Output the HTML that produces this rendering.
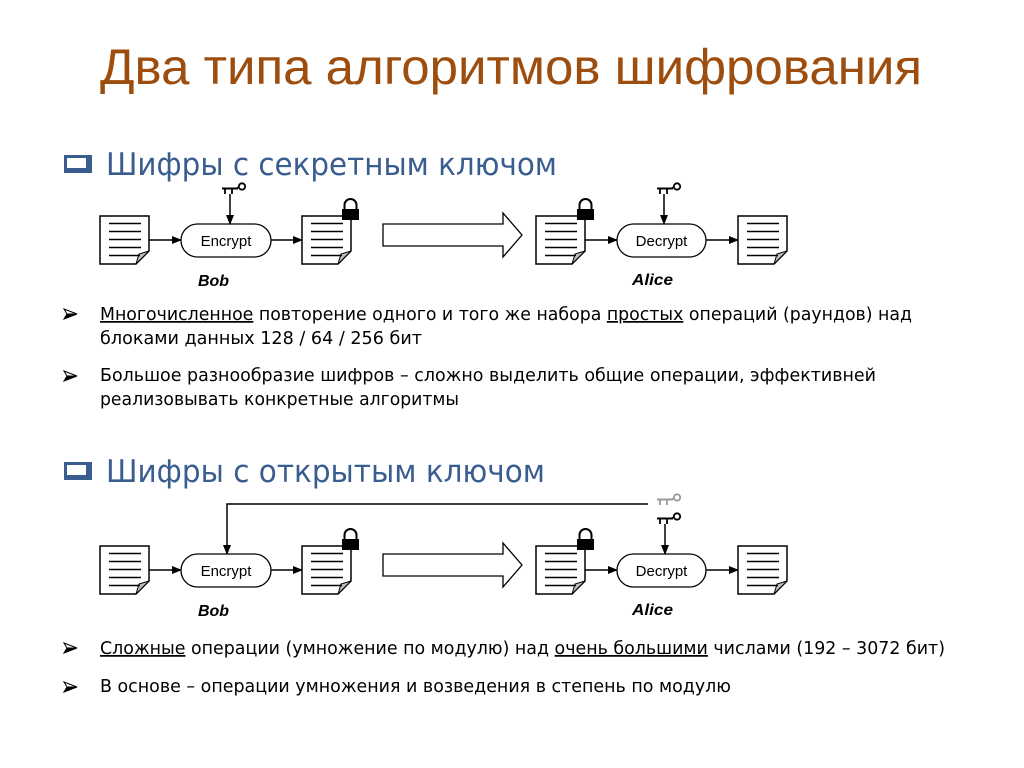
<!DOCTYPE html>
<html><head><meta charset="utf-8"><style>
html,body{margin:0;padding:0;background:#fff;}
svg{display:block;}
.body{font-family:"DejaVu Sans","Liberation Sans",sans-serif;font-size:17.5px;fill:#000;}
.hd{font-family:"DejaVu Sans","Liberation Sans",sans-serif;font-size:31px;fill:#3A5D8F;}
.lbl{font-family:"Liberation Sans",Arial,sans-serif;font-size:15px;fill:#000;}
.who{font-family:"Liberation Sans",Arial,sans-serif;font-size:15.5px;font-weight:bold;font-style:italic;fill:#000;}
.u{text-decoration:underline;}
</style></head><body>
<svg width="1024" height="768" viewBox="0 0 1024 768" xmlns="http://www.w3.org/2000/svg">
<defs>
  <marker id="ah" markerWidth="10" markerHeight="10" refX="9" refY="5" orient="auto" markerUnits="userSpaceOnUse">
    <path d="M0,1 L10,5 L0,9 Z" fill="#000"/>
  </marker>
  <g id="doc">
    <path d="M0,0 H49 V35 L36,48 H0 Z" fill="#fff" stroke="#000" stroke-width="1.5"/>
    <path d="M36,48 L39,38 L49,35 Z" fill="#bdbdbd" stroke="#000" stroke-width="1"/>
    <g stroke="#000" stroke-width="1.5">
      <line x1="9" y1="7.5" x2="41" y2="7.5"/>
      <line x1="9" y1="15.5" x2="41" y2="15.5"/>
      <line x1="9" y1="23.5" x2="41" y2="23.5"/>
      <line x1="9" y1="31.5" x2="41" y2="31.5"/>
      <line x1="9" y1="39.5" x2="40" y2="39.5"/>
    </g>
  </g>
  <g id="lock">
    <path d="M2.5,10 V6 A6,6 0 0 1 14.5,6 V10" fill="none" stroke="#000" stroke-width="2"/>
    <rect x="0" y="10" width="17" height="11" fill="#000"/>
  </g>
  <g id="key">
    <line x1="0" y1="4.5" x2="16" y2="4.5" stroke-width="2"/>
    <line x1="3" y1="4.5" x2="3" y2="10" stroke-width="1.8"/>
    <line x1="10" y1="4.5" x2="10" y2="10" stroke-width="1.8"/>
    <line x1="15" y1="4" x2="17" y2="3" stroke-width="1.5"/>
    <circle cx="20" cy="2.5" r="3.2" fill="none" stroke-width="1.8"/>
  </g>
  <g id="bul">
    <path d="M0,-5 L13,0 L3,0 Z" fill="#fff" stroke="#000" stroke-width="1"/>
    <path d="M3,0 L13,0 L0,5 Z" fill="#000" stroke="#000" stroke-width="1"/>
  </g>
</defs>

<!-- Title -->
<text x="100" y="84" textLength="822" lengthAdjust="spacingAndGlyphs" style="font-family:'Liberation Sans',Arial,sans-serif;font-size:50px;fill:#9D4E0E;">Два типа алгоритмов шифрования</text>

<!-- Heading 1 -->
<rect x="64" y="155" width="28" height="18" fill="#3A5D8F"/>
<rect x="67" y="158" width="19" height="10" fill="#fff"/>
<text class="hd" x="106" y="175" textLength="451" lengthAdjust="spacingAndGlyphs">Шифры с секретным ключом</text>

<!-- Diagram 1 -->
<use href="#doc" x="100" y="216"/>
<line x1="149" y1="240" x2="181" y2="240" stroke="#000" stroke-width="1.5" marker-end="url(#ah)"/>
<rect x="181" y="224" width="90" height="33" rx="16.5" fill="#fff" stroke="#000" stroke-width="1.3"/>
<text class="lbl" x="226" y="246" text-anchor="middle">Encrypt</text>
<g stroke="#000" fill="none"><use href="#key" x="222" y="184"/></g>
<line x1="230" y1="194" x2="230" y2="224" stroke="#000" stroke-width="1.5" marker-end="url(#ah)"/>
<line x1="271" y1="240" x2="302" y2="240" stroke="#000" stroke-width="1.5" marker-end="url(#ah)"/>
<use href="#doc" x="302" y="216"/>
<use href="#lock" x="342" y="199"/>
<polygon points="383,224 503,224 503,213 522,235 503,257 503,246 383,246" fill="#fff" stroke="#000" stroke-width="1.3"/>
<use href="#doc" x="536" y="216"/>
<use href="#lock" x="577" y="199"/>
<line x1="585" y1="240" x2="617" y2="240" stroke="#000" stroke-width="1.5" marker-end="url(#ah)"/>
<rect x="617" y="224" width="89" height="33" rx="16.5" fill="#fff" stroke="#000" stroke-width="1.3"/>
<text class="lbl" x="661.5" y="246" text-anchor="middle">Decrypt</text>
<g stroke="#000" fill="none"><use href="#key" x="657" y="184"/></g>
<line x1="664" y1="194" x2="664" y2="224" stroke="#000" stroke-width="1.5" marker-end="url(#ah)"/>
<line x1="706" y1="240" x2="738" y2="240" stroke="#000" stroke-width="1.5" marker-end="url(#ah)"/>
<use href="#doc" x="738" y="216"/>
<text class="who" x="198" y="286" textLength="31" lengthAdjust="spacingAndGlyphs">Bob</text>
<text class="who" x="632" y="285" textLength="41" lengthAdjust="spacingAndGlyphs">Alice</text>

<!-- Bullets section 1 -->
<use href="#bul" x="64" y="314"/>
<text class="body" x="100" y="320" textLength="812" lengthAdjust="spacingAndGlyphs"><tspan class="u">Многочисленное</tspan> повторение одного и того же набора <tspan class="u">простых</tspan> операций (раундов) над</text>
<text class="body" x="100" y="344" textLength="322" lengthAdjust="spacingAndGlyphs">блоками данных 128 / 64 / 256 бит</text>
<use href="#bul" x="64" y="376"/>
<text class="body" x="100" y="381" textLength="776" lengthAdjust="spacingAndGlyphs">Большое разнообразие шифров – сложно выделить общие операции, эффективней</text>
<text class="body" x="100" y="405" textLength="359" lengthAdjust="spacingAndGlyphs">реализовывать конкретные алгоритмы</text>

<!-- Heading 2 -->
<rect x="64" y="462" width="28" height="18" fill="#3A5D8F"/>
<rect x="67" y="465" width="19" height="10" fill="#fff"/>
<text class="hd" x="106" y="482" textLength="439" lengthAdjust="spacingAndGlyphs">Шифры с открытым ключом</text>

<!-- Diagram 2 -->
<polyline points="648,504 227,504 227,554" fill="none" stroke="#000" stroke-width="1.5" marker-end="url(#ah)"/>
<g stroke="#9a9a9a" fill="none"><use href="#key" x="657" y="495"/></g>
<g stroke="#000" fill="none"><use href="#key" x="657" y="514"/></g>
<line x1="665" y1="524" x2="665" y2="554" stroke="#000" stroke-width="1.5" marker-end="url(#ah)"/>

<use href="#doc" x="100" y="546"/>
<line x1="149" y1="570" x2="181" y2="570" stroke="#000" stroke-width="1.5" marker-end="url(#ah)"/>
<rect x="181" y="554" width="90" height="33" rx="16.5" fill="#fff" stroke="#000" stroke-width="1.3"/>
<text class="lbl" x="226" y="576" text-anchor="middle">Encrypt</text>
<line x1="271" y1="570" x2="302" y2="570" stroke="#000" stroke-width="1.5" marker-end="url(#ah)"/>
<use href="#doc" x="302" y="546"/>
<use href="#lock" x="342" y="529"/>
<polygon points="383,554 503,554 503,543 522,565 503,587 503,576 383,576" fill="#fff" stroke="#000" stroke-width="1.3"/>
<use href="#doc" x="536" y="546"/>
<use href="#lock" x="577" y="529"/>
<line x1="585" y1="570" x2="617" y2="570" stroke="#000" stroke-width="1.5" marker-end="url(#ah)"/>
<rect x="617" y="554" width="89" height="33" rx="16.5" fill="#fff" stroke="#000" stroke-width="1.3"/>
<text class="lbl" x="661.5" y="576" text-anchor="middle">Decrypt</text>
<line x1="706" y1="570" x2="738" y2="570" stroke="#000" stroke-width="1.5" marker-end="url(#ah)"/>
<use href="#doc" x="738" y="546"/>
<text class="who" x="198" y="616" textLength="31" lengthAdjust="spacingAndGlyphs">Bob</text>
<text class="who" x="632" y="615" textLength="41" lengthAdjust="spacingAndGlyphs">Alice</text>

<!-- Bullets section 2 -->
<use href="#bul" x="64" y="648"/>
<text class="body" x="100" y="654" textLength="845" lengthAdjust="spacingAndGlyphs"><tspan class="u">Сложные</tspan> операции (умножение по модулю) над <tspan class="u">очень большими</tspan> числами (192 – 3072 бит)</text>
<use href="#bul" x="64" y="687"/>
<text class="body" x="100" y="692" textLength="631" lengthAdjust="spacingAndGlyphs">В основе – операции умножения и возведения в степень по модулю</text>
</svg>
</body></html>
